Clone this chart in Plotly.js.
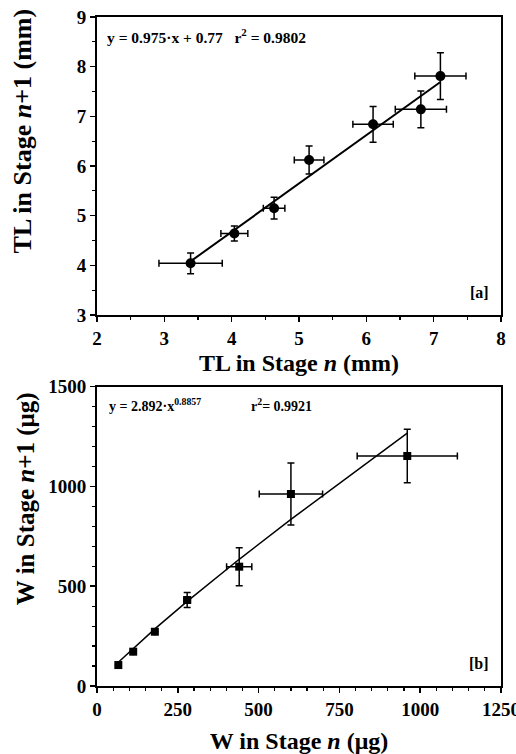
<!DOCTYPE html>
<html>
<head>
<meta charset="utf-8">
<script src="https://cdn.plot.ly/plotly-3.0.1.min.js"></script>
<style>
html,body{margin:0;padding:0;background:#fff;}
#chart{width:516px;height:754px;}
#chart g[class*="tick"] text, #chart g[class*="tick"] text tspan{font-weight:700 !important;}
</style>
</head>
<body>
<div id="chart"></div>
<script>
// Panel [a]: total length (mm)
var tlStageN      = [3.39, 4.04, 4.63, 5.15, 6.10, 6.81, 7.10];
var tlStageN1     = [4.04, 4.64, 5.15, 6.12, 6.84, 7.14, 7.81];
var tlStageNErr   = [0.47, 0.20, 0.16, 0.22, 0.30, 0.38, 0.38];
var tlStageN1Err  = [0.21, 0.15, 0.22, 0.28, 0.36, 0.37, 0.47];
var tlFitX        = [3.39, 7.10];
var tlFitY        = [4.08, 7.69];
var tlXTicks      = [2, 3, 4, 5, 6, 7, 8];
var tlYTicks      = [3, 4, 5, 6, 7, 8, 9];

// Panel [b]: weight (µg)
var wStageN       = [66, 112, 179, 279, 440, 600, 960];
var wStageN1      = [105, 172, 272, 431, 598, 962, 1153];
var wStageNErr    = [0, 0, 0, 10, 39, 98, 155];
var wStageN1Err   = [0, 0, 0, 38, 95, 155, 134];
var wFitX         = [66, 112, 179, 279, 440, 600, 960];
var wFitY         = [119, 189, 286, 424, 635, 835, 1267];
var wXTicks       = [0, 250, 500, 750, 1000, 1250];
var wYTicks       = [0, 500, 1000, 1500];

var serif = 'Liberation Serif, Times New Roman, serif';
var tickFont = {family: serif, size: 19, color: '#000', weight: 'bold'};
var titleFont = {family: serif, size: 24, color: '#000', weight: 'bold'};
var yTitleFont = {family: serif, size: 26, color: '#000', weight: 'bold'};
var annFont = {family: serif, size: 15.5, color: '#000', weight: 'bold'};
var annFont2 = {family: serif, size: 14, color: '#000', weight: 'bold'};

function bold(v) { return v.map(function (t) { return '<b>' + t + '</b>'; }); }

function axisBase(ticks) {
  return {
    showgrid: false, zeroline: false,
    showline: true, linecolor: '#000', linewidth: 2, mirror: true,
    ticks: 'outside', ticklen: 5, tickwidth: 1.5, tickcolor: '#000',
    tickfont: tickFont, tickmode: 'array', tickvals: ticks, ticktext: bold(ticks),
    ticklabeloverflow: 'allow'
  };
}

var traces = [
  {x: tlFitX, y: tlFitY, xaxis: 'x', yaxis: 'y', mode: 'lines',
   line: {color: '#000', width: 2}, hoverinfo: 'skip', showlegend: false},
  {x: tlStageN, y: tlStageN1, xaxis: 'x', yaxis: 'y', mode: 'markers',
   marker: {symbol: 'circle', size: 10, color: '#000'},
   error_x: {type: 'data', array: tlStageNErr, color: '#000', thickness: 1.5, width: 3.5},
   error_y: {type: 'data', array: tlStageN1Err, color: '#000', thickness: 1.5, width: 3.5},
   showlegend: false},
  {x: wFitX, y: wFitY, xaxis: 'x2', yaxis: 'y2', mode: 'lines',
   line: {color: '#000', width: 1.5}, hoverinfo: 'skip', showlegend: false},
  {x: wStageN, y: wStageN1, xaxis: 'x2', yaxis: 'y2', mode: 'markers',
   marker: {symbol: 'square', size: 8, color: '#000'},
   error_x: {type: 'data', array: wStageNErr, color: '#000', thickness: 1.5, width: 3.5},
   error_y: {type: 'data', array: wStageN1Err, color: '#000', thickness: 1.5, width: 3.5},
   showlegend: false}
];

var minorA = {ticklen: 3, tickwidth: 1.2, tickcolor: '#000', ticks: 'outside'};

var xa = axisBase(tlXTicks);
Object.assign(xa, {domain: [0, 1], range: [2, 8], anchor: 'y',
  minor: Object.assign({tickmode: 'linear', dtick: 0.5, tick0: 2}, minorA),
  title: {text: 'TL in Stage <i>n</i> (mm)', font: titleFont, standoff: 6}});
var ya = axisBase(tlYTicks);
Object.assign(ya, {domain: [0.5546, 1], range: [3, 9], anchor: 'x',
  minor: Object.assign({tickmode: 'linear', dtick: 0.5, tick0: 3}, minorA)});
var xa2 = axisBase(wXTicks);
Object.assign(xa2, {domain: [0, 1], range: [0, 1250], anchor: 'y2',
  minor: Object.assign({tickmode: 'linear', dtick: 50, tick0: 0}, minorA),
  title: {text: 'W in Stage <i>n</i> (μg)', font: titleFont, standoff: 24}});
var ya2 = axisBase(wYTicks);
Object.assign(ya2, {domain: [0, 0.4474], range: [0, 1500], anchor: 'x2',
  minor: Object.assign({tickmode: 'linear', dtick: 100, tick0: 0}, minorA)});

var layout = {
  width: 516, height: 754,
  margin: {l: 97, r: 15, t: 17, b: 68},
  paper_bgcolor: '#fff', plot_bgcolor: '#fff',
  xaxis: xa, yaxis: ya, xaxis2: xa2, yaxis2: ya2,
  showlegend: false,
  annotations: [
    // y-axis titles
    {xref: 'paper', yref: 'paper', x: -0.184, y: 0.830, xanchor: 'center', yanchor: 'middle',
     textangle: -90, text: 'TL in Stage <i>n</i>+1 (mm)', showarrow: false, font: yTitleFont},
    {xref: 'paper', yref: 'paper', x: -0.177, y: 0.280, xanchor: 'center', yanchor: 'middle',
     textangle: -90, text: 'W in Stage <i>n</i>+1 (μg)', showarrow: false,
     font: {family: serif, size: 25, color: '#000', weight: 'bold'}},
    // equations and panel labels
    {xref: 'x domain', yref: 'y domain', x: 0.02, y: 0.978, xanchor: 'left', yanchor: 'top',
     text: 'y = 0.975·x + 0.77&nbsp;&nbsp;&nbsp;r<sup>2</sup> = 0.9802', showarrow: false, font: annFont},
    {xref: 'x domain', yref: 'y domain', x: 0.975, y: 0.04, xanchor: 'right', yanchor: 'bottom',
     text: '[a]', showarrow: false, font: {family: serif, size: 16, color: '#000', weight: 'bold'}},
    {xref: 'x2 domain', yref: 'y2 domain', x: 0.025, y: 0.975, xanchor: 'left', yanchor: 'top',
     text: 'y = 2.892·x<sup>0.8857</sup>', showarrow: false, font: annFont2},
    {xref: 'x2 domain', yref: 'y2 domain', x: 0.375, y: 0.975, xanchor: 'left', yanchor: 'top',
     text: 'r<sup>2</sup>= 0.9921', showarrow: false, font: annFont2},
    {xref: 'x2 domain', yref: 'y2 domain', x: 0.975, y: 0.04, xanchor: 'right', yanchor: 'bottom',
     text: '[b]', showarrow: false, font: {family: serif, size: 16, color: '#000', weight: 'bold'}}
  ]
};

Plotly.newPlot('chart', traces, layout, {staticPlot: true, displayModeBar: false});
</script>
</body>
</html>
